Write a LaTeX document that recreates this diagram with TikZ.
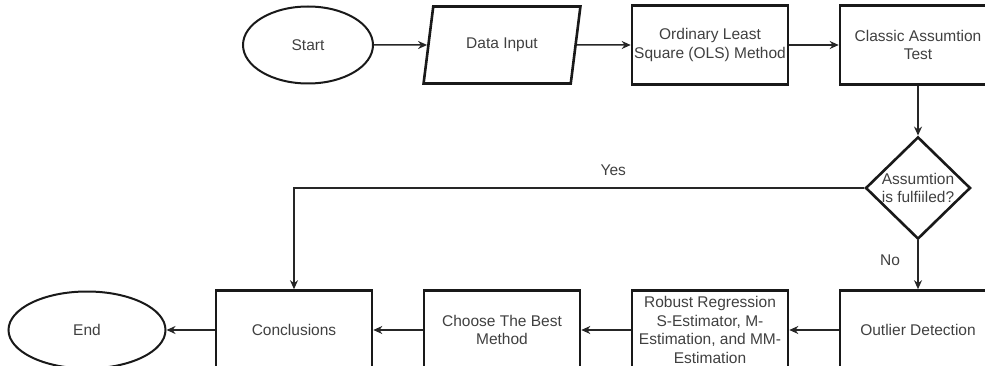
\documentclass[tikz,border=0pt]{standalone}
\usepackage{fontspec}
\setmainfont{Liberation Sans}
\usetikzlibrary{arrows.meta,shapes,positioning}

\begin{document}
\begin{tikzpicture}[x=1pt,y=1pt,node distance=208pt,>={Stealth[length=9pt,width=8pt]},auto,
    font=\fontsize{15.5}{18.5}\selectfont]
  \tikzstyle{startstop}=[ellipse,draw=black!90,line width=2pt,text=black!75,
              minimum height=77pt]
  \tikzstyle{inout}=[trapezium,trapezium left angle=75,trapezium right angle=105,
              trapezium stretches=true,draw=black!90,line width=2.6pt,text=black!75,
              minimum width=157pt,minimum height=77pt]
  \tikzstyle{process}=[rectangle,draw=black!90,line width=2.6pt,text=black!75,
              minimum width=156pt,minimum height=79pt,align=center,inner sep=2pt]
  \tikzstyle{decide}=[diamond,draw=black!90,line width=2.6pt,text=black!75,aspect=1,
              inner sep=0pt,minimum width=105pt,minimum height=102pt,align=center]
  \tikzstyle{flow}=[->,line width=1.5pt,draw=black!85]
  \useasboundingbox (0,0) rectangle (985,-366);
    \node [startstop,minimum width=130pt] (start) at (308,-45) {Start};
    \node [inout] (data) at (502,-45) {Data Input};
    \node [process] (ols) [right of=data] {Ordinary Least\\Square (OLS) Method};
    \node [process] (classic) [right of=ols] {Classic Assumtion\\Test};
    \node [decide] (dec) [below of=classic,node distance=143pt] {Assumtion\\is fulfiiled?};
    \node [process] (outlier) [below of=dec,node distance=142pt] {Outlier Detection};
    \node [process] (robust) [left of=outlier]
          {Robust Regression\\S-Estimator, M-\\Estimation, and MM-\\Estimation};
    \node [process] (choose) [left of=robust] {Choose The Best\\Method};
    \node [process] (concl) [left of=choose] {Conclusions};
    \node [startstop,minimum width=157pt] (end) [left of=concl,node distance=207pt] {End};
    \draw [flow] (start) -- (data);
    \draw [flow] (data) -- (ols);
    \draw [flow] (ols) -- (classic);
    \draw [flow] (classic) -- (dec);
    \draw [flow] (dec) -- node [left,pos=0.4,xshift=-14pt,text=black!75] {No} (outlier);
    \draw [flow] (dec) -| node [pos=0.22,above,yshift=8pt,text=black!75] {Yes} (concl);
    \draw [flow] (outlier) -- (robust);
    \draw [flow] (robust) -- (choose);
    \draw [flow] (choose) -- (concl);
    \draw [flow] (concl) -- (end);
\end{tikzpicture}
\end{document}
